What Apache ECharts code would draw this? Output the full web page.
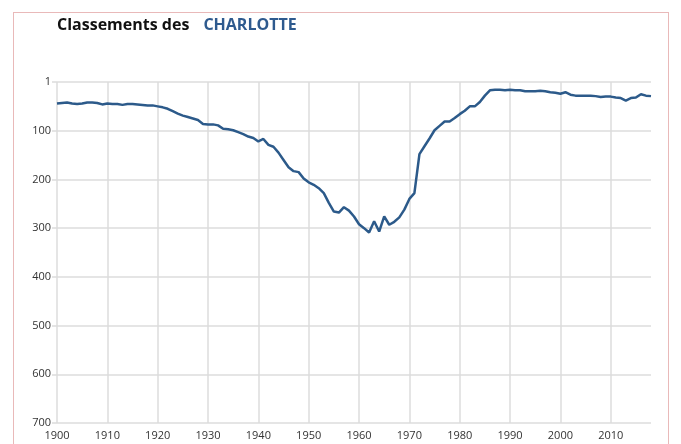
<!DOCTYPE html>
<html>
<head>
<meta charset="UTF-8">
<title>Classements des CHARLOTTE</title>
<script src="https://cdn.jsdelivr.net/npm/echarts@6/dist/echarts.min.js"></script>
<style>
  html, body { margin: 0; padding: 0; background: #fff; }
  #frame { position: absolute; left: 13px; top: 12px; width: 656px; height: 450px; border: 1px solid #e9b9b9; box-sizing: border-box; }
  #chart { position: absolute; left: 0; top: 0; width: 681px; height: 444px; }
</style>
</head>
<body>
<div id="frame"></div>
<div id="chart"></div>
<script>
// years 1900..2018
var years = [];
for (var y = 1900; y <= 2018; y++) years.push(y);

// rank per year
var ranks = [
  44, 43, 42, 44, 45, 44, 42, 42, 43, 46,   // 1900s
  44, 45, 45, 47, 45, 45, 46, 47, 48, 48,   // 1910s
  50, 52, 55, 60, 65, 69, 72, 75, 78, 86,   // 1920s
  87, 87, 89, 96, 97, 99, 103, 107, 112, 115, // 1930s
  122, 117, 129, 133, 145, 160, 175, 183, 185, 198, // 1940s
  206, 211, 218, 228, 248, 266, 268, 257, 264, 276, // 1950s
  292, 300, 309, 286, 307, 276, 293, 287, 278, 262, // 1960s
  240, 228, 148, 132, 116, 99, 90, 81, 81, 74,  // 1970s
  66, 59, 50, 50, 41, 28, 17, 16, 16, 17,   // 1980s
  16, 17, 17, 19, 19, 19, 18, 19, 21, 22,   // 1990s
  24, 21, 26, 28, 28, 28, 28, 29, 31, 30,   // 2000s
  30, 32, 33, 38, 33, 32, 25, 28, 29        // 2010s
];

var yTicks = [1, 100, 200, 300, 400, 500, 600, 700];

var chart = echarts.init(document.getElementById('chart'), null, { renderer: 'canvas' });
chart.setOption({
  animation: false,
  backgroundColor: 'transparent',
  textStyle: { fontFamily: 'Open Sans' },
  title: {
    text: '{a|Classements des}   {b|CHARLOTTE}',
    left: 52,
    top: 11,
    textStyle: {
      rich: {
        a: { fontFamily: 'Open Sans', fontWeight: 'bold', fontSize: 16, color: '#111' },
        b: { fontFamily: 'Open Sans', fontWeight: 'bold', fontSize: 16, color: '#2e5a8e' }
      }
    }
  },
  grid: { left: 57, right: 30, top: 82, bottom: 21, containLabel: false },
  xAxis: {
    type: 'value',
    min: 1900,
    max: 2018,
    interval: 10,
    axisLine: { show: false },
    axisTick: { show: false },
    axisLabel: { color: '#333', fontSize: 11, margin: 7, showMaxLabel: false,
      formatter: function (v) { return v % 10 === 0 ? String(v) : ''; } },
    splitLine: { show: true, showMaxLine: false, lineStyle: { color: '#dcdcdc', width: 1.5 } }
  },
  yAxis: {
    type: 'value',
    inverse: true,
    min: 0,
    max: 700,
    interval: 100,
    axisLine: { show: false },
    axisTick: { show: true, length: 5, lineStyle: { color: '#dcdcdc', width: 1.5 } },
    axisLabel: { color: '#333', fontSize: 11, margin: 6,
      formatter: function (v) { return v === 0 ? String(yTicks[0]) : String(v); } },
    splitLine: { show: true, lineStyle: { color: '#dcdcdc', width: 1.5 } }
  },
  series: [{
    type: 'line',
    data: years.map(function (yr, i) { return [yr, ranks[i]]; }),
    showSymbol: false,
    lineStyle: { color: '#2c5a8a', width: 2.5 },
    itemStyle: { color: '#2c5a8a' }
  }]
});
</script>
</body>
</html>
